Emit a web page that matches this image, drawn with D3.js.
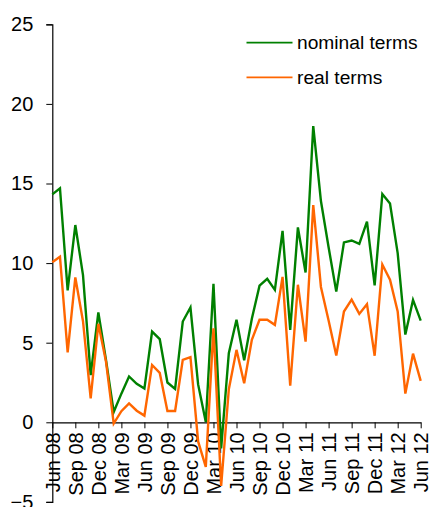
<!DOCTYPE html>
<html>
<head>
<meta charset="utf-8">
<script src="https://cdn.jsdelivr.net/npm/d3@7"></script>
<style>
  html, body { margin: 0; padding: 0; background: #fff; }
  svg { display: block; font-family: "Liberation Sans", Arial, sans-serif; }
</style>
</head>
<body>
<svg id="chart" width="430" height="507"></svg>
<script>
const months = ["Jun 08","Jul 08","Aug 08","Sep 08","Oct 08","Nov 08","Dec 08","Jan 09","Feb 09","Mar 09","Apr 09","May 09","Jun 09","Jul 09","Aug 09","Sep 09","Oct 09","Nov 09","Dec 09","Jan 10","Feb 10","Mar 10","Apr 10","May 10","Jun 10","Jul 10","Aug 10","Sep 10","Oct 10","Nov 10","Dec 10","Jan 11","Feb 11","Mar 11","Apr 11","May 11","Jun 11","Jul 11","Aug 11","Sep 11","Oct 11","Nov 11","Dec 11","Jan 12","Feb 12","Mar 12","Apr 12","May 12","Jun 12"];
const nominal = [14.32, 14.70, 8.28, 12.39, 9.25, 2.96, 6.90, 3.9, 0.65, 1.80, 2.88, 2.42, 2.12, 5.70, 5.22, 2.50, 2.10, 6.33, 7.21, 2.38, 0.02, 8.70, -1.64, 4.34, 6.44, 3.90, 6.5, 8.58, 9.01, 8.32, 12.03, 5.81, 12.24, 9.41, 18.61, 13.9, 11.0, 8.21, 11.3, 11.42, 11.21, 12.61, 8.6, 14.34, 13.74, 10.63, 5.51, 7.69, 6.39];
const real = [10.06, 10.40, 4.39, 9.10, 6.35, 1.50, 6.19, 3.8, -0.08, 0.70, 1.19, 0.73, 0.42, 3.60, 3.10, 0.71, 0.71, 3.92, 4.09, -1.2, -2.8, 5.90, -4.0, 2.08, 4.55, 2.45, 5.18, 6.44, 6.44, 6.12, 9.13, 2.3, 8.64, 5.07, 13.64, 8.5, 6.4, 4.2, 6.96, 7.70, 6.81, 7.42, 4.18, 9.91, 8.96, 6.96, 1.80, 4.31, 2.60];
const tickLabels = ["Jun 08","Sep 08","Dec 08","Mar 09","Jun 09","Sep 09","Dec 09","Mar 10","Jun 10","Sep 10","Dec 10","Mar 11","Jun 11","Sep 11","Dec 11","Mar 12","Jun 12"];
const yTicks = [-5, 0, 5, 10, 15, 20, 25];
const seriesNames = ["nominal terms", "real terms"];
const colors = ["#008000", "#ff6600"];

const svg = d3.select("#chart");
const x = d3.scaleLinear().domain([0, months.length - 1]).range([52.3, 420.7]);
const y = d3.scaleLinear().domain([-5, 25]).range([501.9, 24.3]);

// Y axis
const yAxis = svg.append("g")
  .attr("transform", `translate(${x(0)},0)`)
  .call(d3.axisLeft(y).tickValues(yTicks).tickSize(6).tickPadding(13).tickFormat(d3.format("d")));
yAxis.select(".domain").attr("stroke", "#000").attr("stroke-width", 1.2);
yAxis.selectAll(".tick line").attr("stroke", "#000").attr("stroke-width", 1);
yAxis.selectAll(".tick text").attr("font-size", 20).attr("fill", "#000")
  .attr("font-family", "Liberation Sans, Arial, sans-serif");

// X axis at y=0
const tickIdx = tickLabels.map(l => months.indexOf(l));
const xAxis = svg.append("g")
  .attr("transform", `translate(0,${y(0)})`)
  .call(d3.axisBottom(x).tickValues(tickIdx).tickSize(6).tickSizeOuter(0)
    .tickFormat(i => months[i]));
xAxis.select(".domain").attr("stroke", "#000").attr("stroke-width", 1.2);
xAxis.selectAll(".tick line").attr("stroke", "#000").attr("stroke-width", 1);
xAxis.selectAll(".tick text")
  .attr("font-size", 20).attr("fill", "#000")
  .attr("font-family", "Liberation Sans, Arial, sans-serif")
  .attr("text-anchor", "end")
  .attr("transform", "rotate(-90)")
  .attr("x", -10)
  .attr("y", 0)
  .attr("dy", "0.36em");

// Lines
const line = d3.line().x((d, i) => x(i)).y(d => y(d));
[nominal, real].forEach((s, k) => {
  svg.append("path")
    .datum(s)
    .attr("fill", "none")
    .attr("stroke", colors[k])
    .attr("stroke-width", 2.4)
    .attr("stroke-linejoin", "miter")
    .attr("d", line);
});

// Legend
const legend = svg.append("g");
seriesNames.forEach((name, k) => {
  const ly = 42.7 + k * 34.6;
  legend.append("line")
    .attr("x1", 246.5).attr("x2", 292.5)
    .attr("y1", ly).attr("y2", ly)
    .attr("stroke", colors[k]).attr("stroke-width", 1.8);
  legend.append("text")
    .attr("x", 297).attr("y", ly)
    .attr("dy", "0.35em")
    .attr("font-size", 19.2)
    .attr("fill", "#000")
    .text(name);
});
</script>
</body>
</html>
